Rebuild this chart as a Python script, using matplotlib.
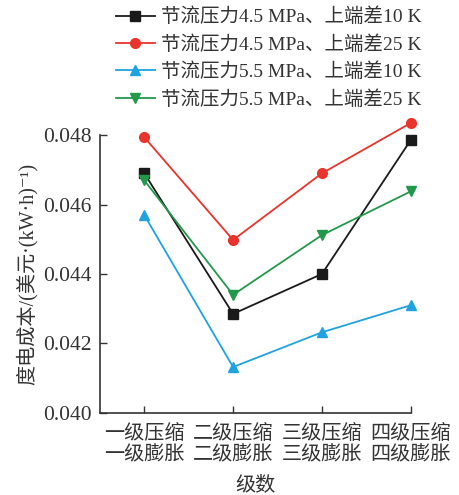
import matplotlib
matplotlib.use("Agg")
import matplotlib.pyplot as plt

plt.rcParams["font.family"] = ["Liberation Serif", "Noto Sans CJK SC", "DejaVu Sans"]

stages = ["一级压缩\n一级膨胀", "二级压缩\n二级膨胀", "三级压缩\n三级膨胀", "四级压缩\n四级膨胀"]
series_labels = [
    "节流压力4.5 MPa、上端差10 K",
    "节流压力4.5 MPa、上端差25 K",
    "节流压力5.5 MPa、上端差10 K",
    "节流压力5.5 MPa、上端差25 K",
]
cost_45_10 = [0.04690, 0.04285, 0.04400, 0.04786]
cost_45_25 = [0.04794, 0.04498, 0.04690, 0.04835]
cost_55_10 = [0.04570, 0.04132, 0.04232, 0.04310]
cost_55_25 = [0.04670, 0.04340, 0.04512, 0.04638]
y_ticks = [0.040, 0.042, 0.044, 0.046, 0.048]

colors = ["#1a1a1a", "#e8342c", "#1fa3e0", "#22994a"]
markers = ["s", "o", "^", "v"]

fig = plt.figure(figsize=(4.6, 4.95), dpi=100)
ax = fig.add_axes([0.217, 0.166, 0.676, 0.561])

x = list(range(len(stages)))
for values, label, color, marker in zip(
    [cost_45_10, cost_45_25, cost_55_10, cost_55_25], series_labels, colors, markers
):
    ax.plot(x, values, color=color, marker=marker, markersize=7, linewidth=1.3,
            label=label, clip_on=False, zorder=3)

ax.set_xlim(-0.5, 3)
ax.set_ylim(0.040, 0.048)
ax.set_xticks(x)
ax.set_xticklabels(stages, fontsize=14.5, linespacing=1.15)
ax.set_yticks(y_ticks)
ax.set_yticklabels([f"{v:.3f}" for v in y_ticks], fontsize=15.5)
ax.tick_params(direction="in", length=5, width=1, color="#333333", labelcolor="#333333")
ax.tick_params(axis="x", pad=9)
ax.tick_params(axis="y", pad=6)
for side in ("top", "right"):
    ax.spines[side].set_visible(False)
for side in ("left", "bottom"):
    ax.spines[side].set_color("#333333")
    ax.spines[side].set_linewidth(1.2)

ax.set_xlabel("级数", fontsize=14.5, color="#333333", labelpad=8)
ax.set_ylabel("度电成本/(美元·(kW·h)⁻¹)", fontsize=14.5, color="#333333", labelpad=4)

fig.legend(loc="upper left", bbox_to_anchor=(0.235, 1.0), frameon=False,
           fontsize=14, handlelength=2.0, handletextpad=0.3, labelspacing=0.45,
           borderaxespad=0.0, labelcolor="#333333")

fig.savefig("out.png", dpi=100)
